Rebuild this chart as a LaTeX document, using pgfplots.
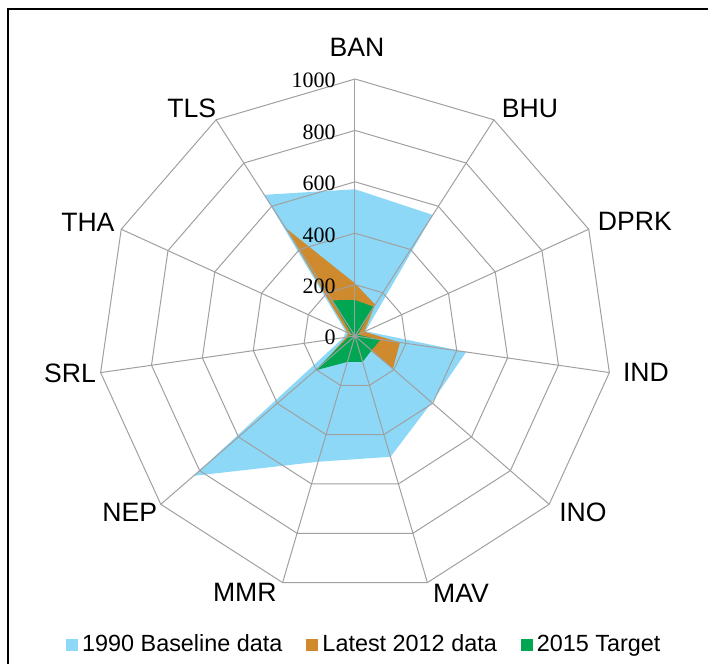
\documentclass[border=0pt]{standalone}
\usepackage{pgfplots}
\pgfplotsset{compat=1.18}
\usepgfplotslibrary{polar}
\usepackage{fontspec}
\setmainfont{Liberation Sans}
\newfontfamily\tickfont{Liberation Serif}
\definecolor{cblue}{HTML}{8DD8F7}
\definecolor{corange}{HTML}{D08A2E}
\definecolor{cgreen}{HTML}{00A651}
\definecolor{cgrid}{HTML}{A0A0A0}
\begin{document}
\begin{tikzpicture}
\useasboundingbox (0,0) rectangle (354pt,-332pt);
\begin{scope}
\clip (0,0) rectangle (354pt,-332pt);
\draw[line width=0.8pt] (4pt,-340pt) -- (4pt,-4.6pt) -- (360pt,-4.6pt);
\end{scope}
\begin{polaraxis}[
  at={(177.5pt,-168pt)}, anchor=origin,
  scale only axis, width=257pt, height=257pt,
  ymin=0, ymax=1000,
  xtick=\empty, ytick=\empty,
  axis line style={draw=none},
  clip=false,
  legend columns=3,
  legend cell align=left,
  legend image code/.code={\fill[#1] (0pt,-3pt) rectangle (6pt,3pt);},
  legend style={at={(0.52,-0.101)}, anchor=center, draw=none, fill=none,
    font=\fontsize{11.7pt}{14pt}\selectfont,
    /tikz/every even column/.append style={column sep=10pt}},
]
% 1990 Baseline
\addplot[fill=cblue, draw=none] coordinates {
 (90,571) (57.2727,560) (24.5455,45) (-8.1818,437) (-40.9091,395)
 (-73.6364,490) (-106.3636,510) (-139.0909,831) (-171.8182,45)
 (155.4545,40) (122.7273,653) (90,571)};
\addlegendentry{1990 Baseline data}
% Latest 2012
\addplot[fill=corange, draw=none] coordinates {
 (90,205) (57.2727,145) (24.5455,40) (-8.1818,177) (-40.9091,195)
 (-73.6364,10) (-106.3636,40) (-139.0909,170) (-171.8182,35)
 (155.4545,30) (122.7273,500) (90,205)};
\addlegendentry{Latest 2012 data}
% 2015 Target
\addplot[fill=cgreen, draw=none] coordinates {
 (90,140) (57.2727,135) (24.5455,12) (-8.1818,100) (-40.9091,85)
 (-73.6364,105) (-106.3636,105) (-139.0909,204) (-171.8182,25)
 (155.4545,15) (122.7273,165) (90,140)};
\addlegendentry{2015 Target}
% grid rings
\pgfplotsinvokeforeach{200,400,600,800,1000}{
\addplot[cgrid, line width=0.5pt, forget plot] coordinates {
 (90,#1) (57.2727,#1) (24.5455,#1) (-8.1818,#1) (-40.9091,#1)
 (-73.6364,#1) (-106.3636,#1) (-139.0909,#1) (-171.8182,#1)
 (155.4545,#1) (122.7273,#1) (90,#1)};
}
% spokes
\pgfplotsinvokeforeach{90,57.2727,24.5455,-8.1818,-40.9091,-73.6364,-106.3636,-139.0909,-171.8182,155.4545,122.7273}{
\addplot[cgrid, line width=0.5pt, forget plot] coordinates {(#1,0) (#1,1000)};
}
% radial tick labels
\pgfplotsinvokeforeach{0,200,400,600,800,1000}{
\node[anchor=east, inner sep=0pt, xshift=-9.5pt, yshift=-0.8pt, font=\tickfont\fontsize{11pt}{13pt}\selectfont] at (axis cs:90,#1) {#1};
}
% category labels
\begin{scope}[every node/.style={font=\fontsize{13.3pt}{16pt}\selectfont, inner sep=0pt}]
\node at (axis cs:89.6,1125) {BAN};
\node at (axis cs:52.5,1118) {BHU};
\node at (axis cs:22.2,1176) {DPRK};
\node at (axis cs:-7.2,1141) {IND};
\node at (axis cs:-37.7,1121) {INO};
\node at (axis cs:-67.6,1082) {MAV};
\node at (axis cs:-113.3,1084) {MMR};
\node at (axis cs:-142,1112) {NEP};
\node at (axis cs:-172.6,1118) {SRL};
\node at (axis cs:156.9,1130) {THA};
\node at (axis cs:125.6,1091) {TLS};
\end{scope}
\end{polaraxis}
\end{tikzpicture}
\end{document}
